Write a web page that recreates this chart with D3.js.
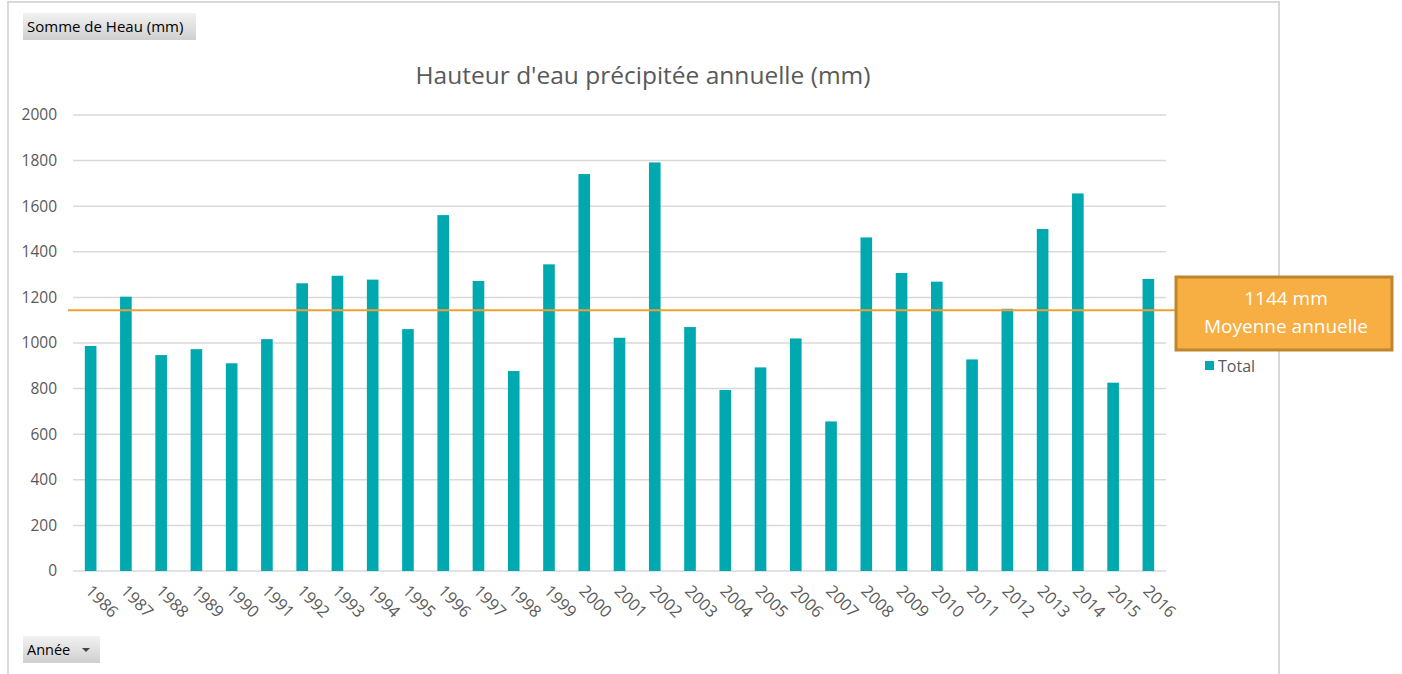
<!DOCTYPE html>
<html>
<head>
<meta charset="utf-8">
<script src="https://cdn.jsdelivr.net/npm/d3@7"></script>
<style>
  body { margin: 0; background: #fff; }
  text { font-family: "Open Sans", Lato, sans-serif; }
</style>
</head>
<body>
<div id="canvas"></div>
<script>
"use strict"

let svgWidth = 1402
let svgHeight = 674

/* data */
let years = ["1986","1987","1988","1989","1990","1991","1992","1993","1994","1995",
             "1996","1997","1998","1999","2000","2001","2002","2003","2004","2005",
             "2006","2007","2008","2009","2010","2011","2012","2013","2014","2015","2016"]
let totals = [987, 1203, 947, 973, 911, 1017, 1262, 1295, 1278, 1061,
              1561, 1272, 877, 1345, 1741, 1023, 1792, 1070, 794, 893,
              1020, 656, 1463, 1307, 1269, 928, 1150, 1500, 1656, 826, 1281]
let yTicks = [0, 200, 400, 600, 800, 1000, 1200, 1400, 1600, 1800, 2000]
let meanValue = 1144

let plotLeft = 73
let plotRight = 1166
let plotTop = 115
let plotBottom = 571

let svg = d3.select("#canvas")
    .append("svg")
    .attr("width", svgWidth)
    .attr("height", svgHeight)

/* chart frame */
svg.append("rect")
   .attr("x", 8)
   .attr("y", 2)
   .attr("width", 1271)
   .attr("height", 690)
   .attr("fill", "none")
   .attr("stroke", "#d9d9d9")
   .attr("stroke-width", 2)

/* scales */
let xScale = d3.scaleBand()
    .domain(years)
    .range([plotLeft, plotRight])
    .paddingInner(0.67)
    .paddingOuter(0.335)

let yScale = d3.scaleLinear()
    .domain([0, 2000])
    .range([plotBottom, plotTop])

/* gridlines */
svg.selectAll(".grid")
   .data(yTicks)
   .join("line")
   .attr("class", "grid")
   .attr("x1", plotLeft)
   .attr("x2", plotRight)
   .attr("y1", d => yScale(d))
   .attr("y2", d => yScale(d))
   .attr("stroke", "#d9d9d9")
   .attr("stroke-width", 1.5)

/* y labels */
svg.selectAll(".ylab")
   .data(yTicks)
   .join("text")
   .attr("class", "ylab")
   .attr("x", 57)
   .attr("y", d => yScale(d))
   .attr("dy", "0.35em")
   .attr("text-anchor", "end")
   .attr("font-size", "15.5px")
   .attr("fill", "#595959")
   .text(d => d)

/* bars */
svg.selectAll(".bar")
   .data(totals)
   .join("rect")
   .attr("class", "bar")
   .attr("x", (d, i) => xScale(years[i]))
   .attr("width", xScale.bandwidth())
   .attr("y", d => yScale(d))
   .attr("height", d => yScale(0) - yScale(d))
   .attr("fill", "#00a9b0")

/* x labels, rotated */
svg.selectAll(".xlab")
   .data(years)
   .join("text")
   .attr("class", "xlab")
   .attr("transform", d => "translate(" + (xScale(d) + xScale.bandwidth() / 2 - 2) + "," + (plotBottom + 17) + ") rotate(45)")
   .attr("dy", "0.35em")
   .attr("font-size", "16.5px")
   .attr("fill", "#595959")
   .text(d => d)

/* mean line */
svg.append("line")
   .attr("x1", 68)
   .attr("x2", 1176)
   .attr("y1", yScale(meanValue))
   .attr("y2", yScale(meanValue))
   .attr("stroke", "#f0a030")
   .attr("stroke-width", 2)

/* title */
svg.append("text")
   .attr("x", 643)
   .attr("y", 84)
   .attr("text-anchor", "middle")
   .attr("font-size", "24.5px")
   .attr("fill", "#595959")
   .text("Hauteur d'eau précipitée annuelle (mm)")

/* mean box */
svg.append("rect")
   .attr("x", 1176)
   .attr("y", 277)
   .attr("width", 216)
   .attr("height", 73)
   .attr("fill", "#f7ae42")
   .attr("stroke", "#bf862e")
   .attr("stroke-width", 3)

svg.append("text")
   .attr("x", 1286)
   .attr("y", 305)
   .attr("text-anchor", "middle")
   .attr("font-size", "19px")
   .attr("fill", "#fff")
   .text(meanValue + " mm")

svg.append("text")
   .attr("x", 1286)
   .attr("y", 333)
   .attr("text-anchor", "middle")
   .attr("font-size", "19px")
   .attr("fill", "#fff")
   .text("Moyenne annuelle")

/* legend */
svg.append("rect")
   .attr("x", 1205)
   .attr("y", 361)
   .attr("width", 9)
   .attr("height", 9)
   .attr("fill", "#00a9b0")

svg.append("text")
   .attr("x", 1218)
   .attr("y", 366)
   .attr("dy", "0.35em")
   .attr("font-size", "16px")
   .attr("fill", "#595959")
   .text("Total")

/* pivot buttons */
let grad = svg.append("defs").append("linearGradient")
   .attr("id", "btn")
   .attr("x1", 0).attr("x2", 0).attr("y1", 0).attr("y2", 1)
grad.append("stop").attr("offset", "0%").attr("stop-color", "#f2f2f2")
grad.append("stop").attr("offset", "100%").attr("stop-color", "#cfcfcf")

svg.append("rect")
   .attr("x", 23)
   .attr("y", 13)
   .attr("width", 173)
   .attr("height", 27)
   .attr("fill", "url(#btn)")

svg.append("text")
   .attr("x", 27)
   .attr("y", 27)
   .attr("dy", "0.35em")
   .attr("font-size", "15px")
   .attr("fill", "#000")
   .text("Somme de Heau (mm)")

svg.append("rect")
   .attr("x", 23)
   .attr("y", 636)
   .attr("width", 77)
   .attr("height", 27)
   .attr("fill", "url(#btn)")

svg.append("text")
   .attr("x", 27)
   .attr("y", 650)
   .attr("dy", "0.35em")
   .attr("font-size", "14.5px")
   .attr("fill", "#000")
   .text("Année")

svg.append("path")
   .attr("d", "M82,648 L90,648 L86,652 Z")
   .attr("fill", "#444")
</script>
</body>
</html>
